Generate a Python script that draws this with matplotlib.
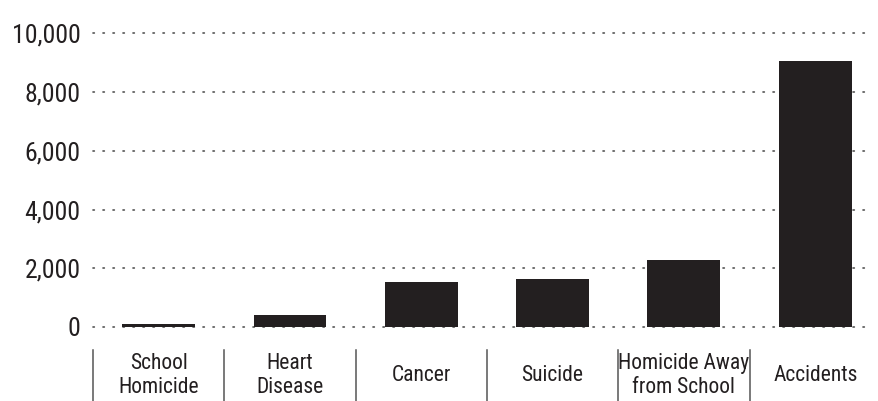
import matplotlib
matplotlib.use("Agg")
import matplotlib.pyplot as plt
import matplotlib.transforms as mtransforms

categories = ["School\nHomicide", "Heart\nDisease", "Cancer", "Suicide",
              "Homicide Away\nfrom School", "Accidents"]
values = [100, 400, 1530, 1630, 2280, 9050]
yticks = [0, 2000, 4000, 6000, 8000, 10000]
yticklabels = ["0", "2,000", "4,000", "6,000", "8,000", "10,000"]

plt.rcParams['font.family'] = ['Roboto Condensed', 'DejaVu Sans']

ink = "#231f20"
fig = plt.figure(figsize=(8.79, 4.01), dpi=100)
ax = fig.add_axes([93/879, 1-327/401, (873-93)/879, (327-33.3)/401])

x = list(range(len(categories)))
ax.bar(x, values, width=0.555, color=ink, zorder=3)
ax.set_xlim(-0.5, 5.44)
ax.set_ylim(0, 10000)
ax.set_yticks(yticks)
ax.set_yticklabels(yticklabels, fontsize=18.5, color=ink)
ax.tick_params(axis='y', length=0, pad=9)
ax.set_xticks(x)
ax.set_xticklabels(categories, fontsize=15.5, color=ink, linespacing=1.2,
                   va='center')
ax.tick_params(axis='x', length=0, pad=35)
for s in ax.spines.values():
    s.set_visible(False)
for t in yticks:
    ax.axhline(t, color="#555555", lw=1.2, linestyle=(0, (0.8, 5.2)),
               dash_capstyle='round', zorder=1, clip_on=False)

trans = mtransforms.blended_transform_factory(ax.transData, fig.transFigure)
for i in range(len(categories)):
    ax.plot([i-0.5, i-0.5], [1-350/401, 0], color="#555555", lw=1.1,
            transform=trans, clip_on=False)

fig.savefig("out.png", dpi=100)
